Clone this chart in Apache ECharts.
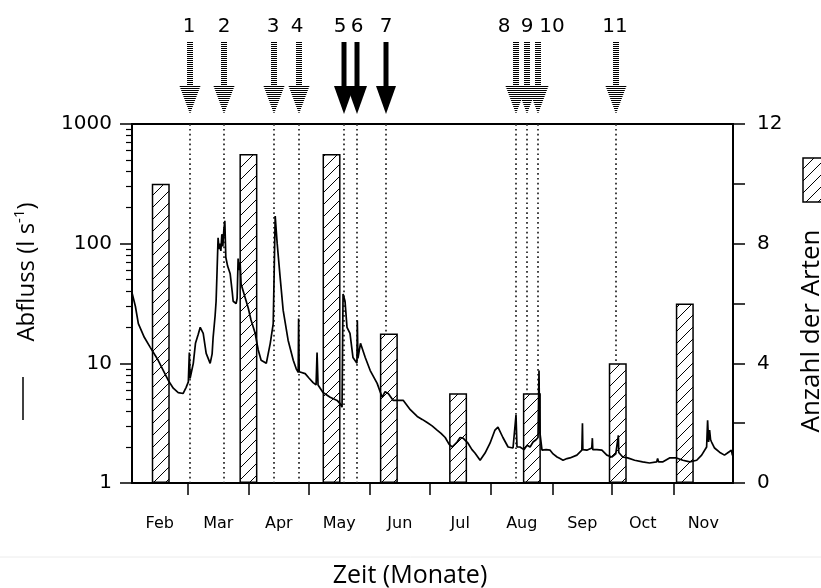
<!DOCTYPE html>
<html>
<head>
<meta charset="utf-8">
<script src="https://cdn.jsdelivr.net/npm/echarts@6/dist/echarts.min.js"></script>
<style>
  html, body { margin: 0; padding: 0; background: #fff; }
  #chart { width: 821px; height: 588px; }
</style>
</head>
<body>
<div id="chart"></div>
<script>
// x axis: months and their length in days (day 0 = 1 Feb)
const months = ['Feb', 'Mar', 'Apr', 'May', 'Jun', 'Jul', 'Aug', 'Sep', 'Oct', 'Nov'];
const monthDays = [28, 31, 30, 31, 30, 31, 31, 30, 31, 30];

// Abfluss (l/s)
const flowDays = [0, 1.7, 3.2, 6.2, 9.2, 13.2, 15.8, 18.3, 20.8, 23.3, 25.8, 27.3, 28.4, 28.9, 29.3, 30.9,
  32, 33.4, 34.4, 35.9, 37.4, 38.4, 39.4, 40.4, 40.9, 41.9, 42.4, 42.9, 43.4, 43.9, 44.3, 44.8, 45.3,
  45.8, 46.3, 46.8, 47.3, 48.2, 49.5, 50.5, 51, 52.5, 53, 53.5, 54, 54.5, 55, 56.5, 58.6, 60, 62.1,
  63.6, 65.1, 67.7, 68.7, 69.7, 71.2, 71.7, 72.2, 72.7, 73.2, 74.7, 76.2, 78.7, 81.3, 82.8, 83.8, 84,
  84.3, 87.3, 89.3, 91.3, 92.8, 93.3, 93.8, 96.3, 99.9, 103.4, 104.9, 105.9, 106.4, 107.4, 108.4,
  109.9, 111.4, 113.4, 113.6, 113.9, 115.2, 117.6, 120.1, 123.6, 126.1, 127.6, 129.2, 131.7, 133.7,
  136.8, 140.3, 143.8, 146.3, 148.8, 151.3, 153.8, 155.8, 157.9, 159.9, 161.4, 163.9, 165.4, 166.9,
  169.4, 171.4, 172.9, 175.5, 178, 180.5, 183, 184.5, 187, 189.6, 192.1, 193.1, 193.6, 194.1, 195.6,
  197.6, 199.2, 200.7, 202.2, 203.7, 204.7, 205.2, 205.4, 205.7, 206.7, 208.8, 210.8, 212.3, 214.3,
  215.8, 217.3, 219.3, 220.8, 224.3, 226.8, 227.1, 227.3, 229.3, 231.8, 232.1, 232.3, 234.4, 236.9,
  239.4, 241.9, 243.9, 244.9, 245.2, 245.4, 247.4, 249.9, 253.4, 257.4, 260.9, 264.5, 265, 265.5,
  267.5, 271, 274.5, 277.7, 281.2, 284.7, 287.2, 289.7, 290.2, 290.7, 291.2, 291.7, 292.2, 293.7,
  296.2, 298.7, 300.2, 302.2, 302.7];
const flowValues = [39, 30, 21.5, 16.5, 13.6, 10.6, 8.7, 7.2, 6.2, 5.7, 5.6, 6.3, 7, 12.3, 7.5, 10,
  14.7, 17.5, 20, 17.8, 12.1, 11, 10, 12, 16.5, 25, 33, 60, 112, 90, 100, 87, 120,
  95, 130, 155, 77, 65, 56, 40, 33, 31.6, 35, 75, 60, 70, 46, 38, 29, 23, 17.8,
  13, 10.6, 10, 10.2, 14.7, 21.5, 60, 170, 130, 100, 52, 27.8, 15.6, 10.6, 9, 8.4, 23.7,
  8.5, 8.2, 7.5, 6.9, 6.6, 12.3, 6.6, 5.7, 5.2, 4.9, 4.6, 4.3, 38, 33, 20,
  17.8, 11.2, 10, 22.8, 11, 14.7, 11.2, 8.7, 6.8, 5.2, 5.8, 5.6, 4.9, 4.9,
  4.9, 4.1, 3.6, 3.4, 3.2, 3.0, 2.77, 2.6, 2.4, 2.1, 2.0, 2.2, 2.4, 2.37,
  2.15, 1.9, 1.78, 1.55, 1.78, 2.15, 2.77, 2.93, 2.4, 2.0, 1.96, 2.0, 3.7, 2.0, 2.0,
  1.9, 2.07, 2.0, 2.2, 2.3, 2.4, 8.7, 4, 2.6, 1.88, 1.9, 1.88, 1.75, 1.65,
  1.6, 1.55, 1.6, 1.62, 1.71, 1.88, 3.16, 1.9, 1.88, 1.96, 2.37, 1.9, 1.9, 1.88,
  1.71, 1.65, 1.75, 1.81, 2.5, 1.8, 1.65, 1.62, 1.55, 1.5, 1.47, 1.5, 1.6, 1.5,
  1.5, 1.62, 1.62, 1.55, 1.5, 1.55, 1.71, 2.0, 3.35, 2.2, 2.77, 2.3, 2.2, 1.96,
  1.81, 1.71, 1.78, 1.88, 1.7];

// Anzahl der Arten per sampling date
const sampleDays = [14.5, 58.7, 100.6, 129.5, 164.4, 201.6, 244.9, 278.7];
const speciesCount = [10, 11, 11, 5, 3, 3, 4, 6];

// numbered events (arrows + dotted lines)
const eventDays = [29.1, 46.5, 71.7, 84.3, 106.9, 113.5, 127.9, 193.6, 199.1, 204.7, 244.2];
const eventLabels = ['1', '2', '3', '4', '5', '6', '7', '8', '9', '10', '11'];
const eventSolid = [false, false, false, false, true, true, true, false, false, false, false];

// axis ticks
const leftMinorTicks = [2, 3, 4, 5, 6, 7, 8, 9, 20, 30, 40, 50, 60, 70, 80, 90, 200, 300, 400, 500, 600, 700, 800, 900];

// layout only: small sideways shift of crowded arrow numbers
const labelShift = [-1, 0, -1, -2, -4, 0, 0, -12, 0, 14, -1];

let monthStart = [0];
monthDays.forEach(d => monthStart.push(monthStart[monthStart.length - 1] + d));
const totalDays = monthStart[monthStart.length - 1];
const monthBounds = monthStart.slice(1, -1);
const monthMids = months.map((m, i) => (monthStart[i] + monthStart[i + 1]) / 2);

// hatch pattern for the bars
let hatch = document.createElement('canvas');
hatch.width = hatch.height = 12;
let hc = hatch.getContext('2d');
hc.fillStyle = '#fff';
hc.fillRect(0, 0, 12, 12);
hc.strokeStyle = '#000';
hc.lineWidth = 1;
hc.beginPath();
hc.moveTo(0, 12); hc.lineTo(12, 0);
hc.moveTo(-3, 3); hc.lineTo(3, -3);
hc.moveTo(9, 15); hc.lineTo(15, 9);
hc.stroke();
const hatchFill = { image: hatch, repeat: 'repeat' };

const numFont = 'DejaVu Sans';

let chart = echarts.init(document.getElementById('chart'), null, { renderer: 'canvas' });

let option = {
  animation: false,
  backgroundColor: '#fff',
  grid: {
    left: 132, right: 88, top: 124, bottom: 105,
    show: true, borderColor: '#000', borderWidth: 2, backgroundColor: 'transparent'
  },
  xAxis: [{
    type: 'value',
    min: 0,
    max: totalDays,
    position: 'bottom',
    axisLine: { show: true, lineStyle: { color: '#000', width: 2 } },
    axisTick: { show: true, inside: false, length: 12, customValues: monthBounds, lineStyle: { color: '#000', width: 1.5 } },
    axisLabel: {
      customValues: monthMids,
      margin: 33,
      fontSize: 16,
      fontFamily: numFont,
      color: '#000',
      formatter: function (v) {
        let best = 0;
        monthMids.forEach((m, i) => { if (Math.abs(m - v) < Math.abs(monthMids[best] - v)) best = i; });
        return months[best];
      }
    },
    splitLine: { show: false }
  }],
  yAxis: [{
    type: 'log',
    logBase: 10,
    min: 1,
    max: 1000,
    position: 'left',
    axisLine: { show: true, lineStyle: { color: '#000', width: 2 } },
    axisTick: { show: true, inside: false, length: 12, lineStyle: { color: '#000', width: 1.5 } },
    axisLabel: { margin: 20, fontSize: 20, fontFamily: numFont, color: '#000', formatter: v => String(Math.round(v)) },
    splitLine: { show: false }
  }, {
    type: 'value',
    min: 0,
    max: 12,
    interval: 2,
    position: 'right',
    axisLine: { show: true, lineStyle: { color: '#000', width: 2 } },
    axisTick: { show: true, inside: false, length: 12, lineStyle: { color: '#000', width: 1.5 } },
    axisLabel: {
      margin: 24, fontSize: 20, fontFamily: numFont, color: '#000',
      formatter: v => (v % 4 === 0 ? String(v) : '')
    },
    splitLine: { show: false }
  }, {
    type: 'log',
    logBase: 10,
    min: 1,
    max: 1000,
    position: 'left',
    axisLine: { show: false },
    axisTick: { show: true, inside: false, length: 6, customValues: leftMinorTicks, lineStyle: { color: '#000', width: 1.2 } },
    axisLabel: { show: false },
    splitLine: { show: false }
  }],
  graphic: [
    { type: 'line', shape: { x1: 0, y1: 557, x2: 821, y2: 557 }, style: { stroke: '#ececec', lineWidth: 1 } },
    {
      type: 'text', x: 27, y: 272, rotation: Math.PI / 2,
      style: {
        text: '{a|Abfluss (l s}{b|-1}{a|)}',
        align: 'center', verticalAlign: 'middle',
        rich: {
          a: { fontSize: 24, fontFamily: 'Open Sans', fill: '#000', lineHeight: 30 },
          b: { fontSize: 15, fontFamily: 'Open Sans', fill: '#000', verticalAlign: 'top', lineHeight: 30 }
        }
      }
    },
    { type: 'line', shape: { x1: 23, y1: 377, x2: 23, y2: 420 }, style: { stroke: '#000', lineWidth: 1.5 } },
    {
      type: 'text', x: 812, y: 331, rotation: Math.PI / 2,
      style: { text: 'Anzahl der Arten', font: '26px "Open Sans"', fill: '#000', align: 'center', verticalAlign: 'middle' }
    },
    { type: 'rect', shape: { x: 803, y: 158, width: 30, height: 44 }, style: { fill: hatchFill, stroke: '#000', lineWidth: 1.5 } },
    {
      type: 'text', x: 410, y: 576,
      style: { text: 'Zeit (Monate)', font: '25px "Open Sans"', fill: '#000', align: 'center', verticalAlign: 'middle' }
    }
  ],
  series: [{
    // dotted event lines and arrows above the plot
    name: 'Ereignisse',
    type: 'custom',
    coordinateSystem: 'cartesian2d',
    xAxisIndex: 0,
    yAxisIndex: 0,
    clip: false,
    silent: true,
    z: 1,
    data: eventDays.map((d, i) => [d, i]),
    renderItem: function (params, api) {
      const i = api.value(1);
      const x = Math.round(api.coord([api.value(0), 1])[0]);
      const top = params.coordSys.y;
      const bottom = top + params.coordSys.height;
      const shaftTop = top - 82, headBase = top - 38, tip = top - 10;
      let children = [{
        type: 'line',
        shape: { x1: x, y1: top, x2: x, y2: bottom },
        style: { stroke: '#222', lineWidth: 1.7, lineDash: [1.7, 3.2] }
      }];
      if (eventSolid[i]) {
        children.push({ type: 'rect', shape: { x: x - 2.5, y: shaftTop, width: 5, height: headBase - shaftTop + 1 }, style: { fill: '#000' } });
        children.push({ type: 'polygon', shape: { points: [[x - 10, headBase], [x + 10, headBase], [x, tip]] }, style: { fill: '#000' } });
      } else {
        for (let y = Math.round(shaftTop) + 0.5; y < headBase; y += 2) {
          children.push({ type: 'line', shape: { x1: x - 3, y1: y, x2: x + 3, y2: y }, style: { stroke: '#000', lineWidth: 1 } });
        }
        for (let y = Math.round(headBase) + 0.5; y < tip; y += 2) {
          const half = 10.5 * (tip - y) / (tip - headBase);
          children.push({ type: 'line', shape: { x1: x - half, y1: y, x2: x + half, y2: y }, style: { stroke: '#000', lineWidth: 1 } });
        }
      }
      children.push({
        type: 'text',
        x: x + labelShift[i],
        y: top - 97,
        style: { text: eventLabels[i], font: '20px "DejaVu Sans"', fill: '#000', align: 'center', verticalAlign: 'middle' }
      });
      return { type: 'group', children: children };
    }
  }, {
    name: 'Anzahl der Arten',
    type: 'bar',
    xAxisIndex: 0,
    yAxisIndex: 1,
    barWidth: 18,
    silent: true,
    z: 3,
    data: sampleDays.map((d, i) => [d, speciesCount[i]]),
    itemStyle: { color: hatchFill, borderColor: '#000', borderWidth: 1.5 }
  }, {
    name: 'Abfluss',
    type: 'line',
    xAxisIndex: 0,
    yAxisIndex: 0,
    showSymbol: false,
    silent: true,
    z: 4,
    data: flowDays.map((d, i) => [d, flowValues[i]]),
    lineStyle: { color: '#000', width: 1.7 }
  }]
};

chart.setOption(option);
</script>
</body>
</html>
